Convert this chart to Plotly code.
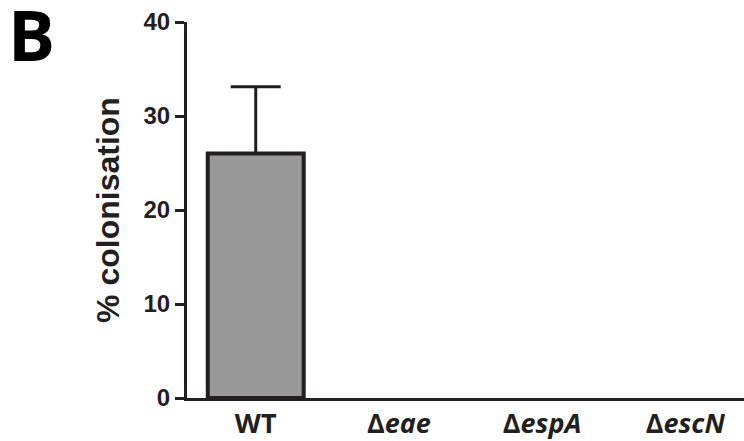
import plotly.graph_objects as go

categories = ["WT", "Δeae", "ΔespA", "ΔescN"]
tick_text = ["WT", "Δ<i>eae</i>", "Δ<i>espA</i>", "Δ<i>escN</i>"]
values = [26, 0, 0, 0]
errors = [7.1, 0, 0, 0]
y_ticks = [0, 10, 20, 30, 40]

dark = "#231f20"

fig = go.Figure()
fig.add_trace(go.Bar(
    x=categories, y=values, width=0.67,
    marker=dict(color="#999999",
                line=dict(color=dark, width=[4 if v > 0 else 0 for v in values])),
))

# error bars only where there is a non-zero SEM
err_idx = [i for i, e in enumerate(errors) if e > 0]
fig.add_trace(go.Scatter(
    x=[categories[i] for i in err_idx], y=[values[i] for i in err_idx],
    mode="markers", marker=dict(size=1, color="rgba(0,0,0,0)"),
    error_y=dict(type="data", array=[errors[i] for i in err_idx], symmetric=False,
                 arrayminus=[0 for _ in err_idx], color=dark, thickness=3, width=25),
    hoverinfo="skip",
))

fig.update_layout(
    width=744, height=441,
    margin=dict(l=187, r=0, t=22, b=41),
    plot_bgcolor="white", paper_bgcolor="white",
    showlegend=False,
    xaxis=dict(
        type="category", range=[-0.48, 3.41],
        tickvals=categories, ticktext=tick_text,
        showline=True, linecolor=dark, linewidth=3,
        ticks="", showgrid=False, zeroline=False,
        tickfont=dict(family="Open Sans", size=27, color=dark, weight="bold"),
    ),
    yaxis=dict(
        range=[0, 40], tickvals=y_ticks,
        showline=True, linecolor=dark, linewidth=3,
        ticks="outside", ticklen=9, tickwidth=3, tickcolor=dark,
        showgrid=False, zeroline=False,
        tickfont=dict(family="Liberation Sans", size=24, color=dark, weight="bold"),
        title=dict(text="% colonisation", standoff=15,
                   font=dict(family="Liberation Sans", size=32, color=dark, weight="bold")),
    ),
    bargap=0.33,
)

fig.add_annotation(
    text="B", xref="paper", yref="paper",
    x=-0.325, y=(400 - 34) / 378, xanchor="left", yanchor="middle", showarrow=False,
    font=dict(family="Open Sans", size=70, color="black", weight="bold"),
)

fig.write_html("out.html")
